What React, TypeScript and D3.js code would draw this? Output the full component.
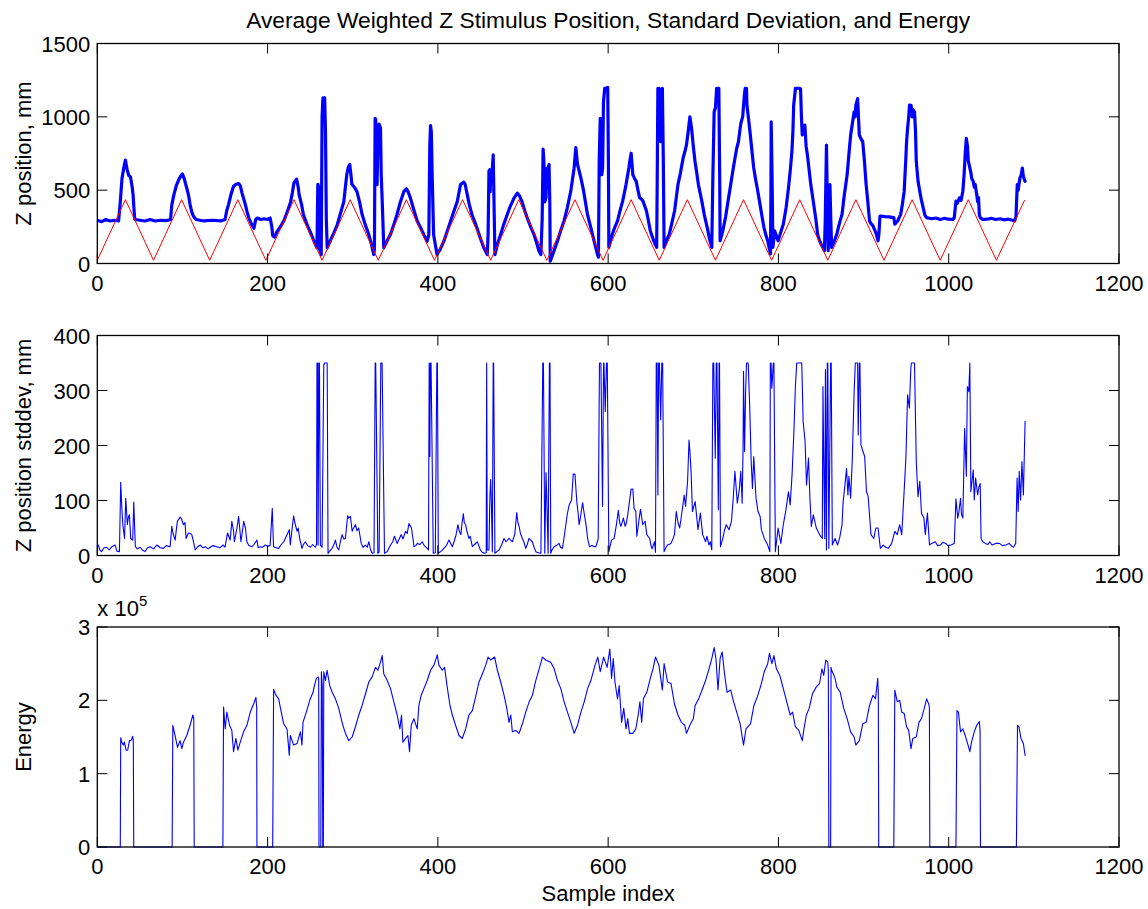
import React from "react";
import * as d3 from "d3";

// ---------- data ----------
const xTicks = [0, 200, 400, 600, 800, 1000, 1200];
const posTicks = [0, 500, 1000, 1500];
const stdTicks = [0, 100, 200, 300, 400];
const energyTicks = [0, 1, 2, 3]; // x 10^5

// red stimulus (triangle wave vertices)
const stimIdx = [0, 33, 66, 99, 132, 165, 198, 231, 264, 297, 330, 363, 396, 429, 462, 495, 528, 561, 594, 627, 660, 693, 726, 759, 792, 825, 858, 891, 924, 957, 990, 1023, 1056, 1089];
const stimVal = [22, 435, 22, 435, 22, 435, 22, 435, 22, 435, 22, 435, 22, 435, 22, 435, 22, 435, 22, 435, 22, 435, 22, 435, 22, 435, 22, 435, 22, 435, 22, 435, 22, 430];

// average weighted Z position, mm  [sample, value]
const zPosition: [number, number][] = [
  [0,295],[5,285],[10,300],[15,290],[20,295],[25,290],[27,420],[29,580],[31,650],[33,705],[35,640],[37,600],[39,590],[41,520],[42,470],[43,380],[44,300],[50,295],[56,290],[62,300],[68,290],[74,295],[80,292],[86,298],
  [87.5,400],[90,470],[93,535],[96,575],[99,605],[100,610],[102,580],[105,515],[107,470],[109,400],[111,350],[113,322],[116,300],[125,290],[135,295],[145,290],[150,300],
  [152,360],[154,400],[157,470],[160,527],[163,540],[166,545],[168,530],[170,480],[172,440],[174,400],[176,350],[178,310],[181,270],[184,240],[186,300],[188,310],[192,300],[196,305],[200,300],[203,310],[205,250],[206,190],[208,180],[211,217],
  [215,250],[219,290],[223,350],[227,420],[229,480],[231,550],[234,575],[236,520],[237,470],[240,400],[242,334],[246,270],[250,217],[254,160],[258,107],[259,540],[260,520],[261,100],[263,60],[264,1000],[265,1130],[266,1120],[267,1130],[268,900],[269,300],[270,107],
  [274,160],[278,210],[281.6,260],[285,330],[289.5,420],[291,500],[293,606],[295,660],[296.5,675],[298,600],[299,540],[302,520],[305,490],[308,420],[311,334],[315,260],[318.9,197],[322,130],[324.7,61],[325.5,100],[326.3,990],[327,980],[328.6,538],[330,940],[331,950],[332.6,925],[333.5,600],[334.5,446],[336.5,107],
  [340,150],[344.3,197],[348,260],[352,334],[356,420],[360,490],[363,510],[365,490],[367.8,446],[371,380],[375.7,290],[380,240],[383.5,197],[387.4,152],[389.4,197],[390.5,800],[391.4,940],[392.3,900],[393.3,606],[395,197],[399,61],
  [403,100],[407,152],[411,220],[415,290],[419,360],[422.7,420],[426.6,538],[430.5,555],[432,540],[434.5,470],[437,400],[440,334],[443,290],[446,240],[450,170],[454,107],[458,61],[459,200],[460,630],[461,640],[461.5,490],[462,630],[463,560],[465,740],[466,400],[467,61],
  [470,130],[473.7,197],[477,260],[481.5,334],[485,390],[489.4,446],[493.3,480],[496,460],[499,420],[502,360],[505,310],[509,250],[513,197],[516,140],[518.8,84],[521,61],[522.5,300],[523.6,780],[524.5,700],[525.6,420],[527,450],[528,650],[529,640],[530.6,675],[531.5,400],[532,16],
  [536,80],[540.4,152],[544,220],[548.2,290],[552,380],[556,490],[558,570],[560,650],[562,790],[564,675],[566,630],[568,583],[571,500],[575.7,334],[579,260],[583.5,152],[587.5,61],[588.6,43],[589.5,700],[590.7,990],[591.5,900],[592.5,605],[593.5,650],[594.5,1100],[596,1195],[598,1195],[599.5,1200],[600.3,700],[600.8,110],
  [604.9,200],[608,250],[611,290],[614,360],[617,425],[619,480],[621,538],[624.3,651],[625.5,700],[627,752],[629,605],[631,580],[633,560],[635,500],[637,448],[639,440],[641,425],[645,358],[647,300],[649.5,223],[653.5,155],[657,110],[657.8,700],[658.4,1195],[660,1195],[661.7,831],[662.5,900],[663.7,1195],[664.8,700],[665.7,110],
  [668,150],[671.8,200],[675,280],[678,358],[682,538],[685,620],[688,718],[690,760],[692,808],[694,900],[696,1000],[698,921],[700,800],[702,696],[704,620],[706,538],[710,425],[713,330],[716.4,245],[719,170],[721.7,110],[723,600],[724.5,1034],[726,1060],[727.4,1195],[729,1195],[730,1195],[731,600],[731.5,155],
  [734.7,223],[738,320],[740.8,425],[744,540],[747,651],[749,720],[751,786],[753,830],[755,921],[756,960],[758,1000],[760,1150],[761,1195],[762.5,1195],[763,1079],[765,980],[767,876],[769,760],[771,651],[773,580],[775,516],[777,450],[779,381],[781,310],[783,245],[785,200],[787.4,155],[789,110],[790.7,65],[791.2,500],[791.5,966],[792.5,600],[793.5,110],[795.5,223],[797.5,190],[799.6,155],
  [802,200],[805.7,268],[809,380],[811.8,516],[814,640],[815.8,763],[817,900],[817.9,1079],[820,1195],[822,1195],[824,1195],[826,1191],[827,1000],[828,876],[829.5,900],[831,944],[832.5,800],[834,741],[836,640],[838,538],[840,460],[842,381],[844,300],[846,200],[848,160],[850,133],[852,110],[854,88],[855,300],[856.4,808],[857.5,400],[858.4,88],[859.5,300],[860.5,538],[861.5,300],[862.5,110],
  [866,160],[868.6,200],[871,260],[874.7,335],[877,450],[880.7,605],[883,760],[884.8,876],[887,960],[888.9,1034],[890,1000],[891,1080],[893,1124],[894,1000],[895,876],[897,850],[899,831],[901,700],[903,538],[905,420],[907,290],[909,270],[911,257],[913,230],[915,200],[917,155],[918,200],[919.3,324],[925,320],[930,318],[935.5,313],[936.7,268],
  [940,290],[943.6,335],[945.5,400],[947.7,493],[949.5,700],[950.5,830],[951.7,921],[953,1000],[954,1080],[955.8,1079],[957,1000],[958,1050],[959.8,1034],[961,900],[961.9,696],[964,560],[966,493],[968,430],[970,381],[972,330],[974,313],[980,305],[985,310],[990,300],[995,308],[1000,302],[1005,300],[1006.5,313],
  [1008.5,425],[1010,410],[1012.6,448],[1014.5,430],[1016.6,493],[1018,600],[1019.5,760],[1020.7,853],[1022,800],[1023,700],[1024.8,651],[1026,620],[1027,580],[1028.8,560],[1030,520],[1031,540],[1032.9,470],[1034,420],[1035,450],[1036,330],[1037,313],
  [1040,300],[1045,302],[1050,308],[1055,300],[1060,305],[1065,298],[1070,302],[1075,295],[1077.5,290],[1079,320],[1080.5,538],[1081.5,500],[1083.6,583],[1085,600],[1086.5,651],[1087.5,600],[1089,570],[1089.7,560]
];

// Z position standard deviation, mm  [sample, value]
const zStd: [number, number][] = [
  [0,15],[1.2,19],[3,10],[5,7],[8,14],[11,15],[14,10],[17,16],[21,19],[23,8],[26,7],[27.5,133],[28.7,89],[30,56],[32,31],[33.4,104],[35.3,56],[36.5,70],[37.7,74],[39.2,31],[41.6,28],[42.8,97],[44.7,16],[47,12],[50.2,15],[53,10],[56,7],[59,14],[62,16],[66,12],[70,19],[74,14],[77.7,13],[81,18],[85.5,16],
  [87.5,53],[89,40],[91.4,28],[94,62],[97.3,70],[99,66],[101.2,56],[103,60],[104.3,31],[107,41],[109,40],[111,38],[113,25],[115,10],[118,16],[121,19],[124,14],[127,16],[130,12],[132.6,15],[136,18],[140.4,16],[144,14],[148,19],[150,15],
  [153,41],[156,28],[158,62],[160,45],[161,25],[164,50],[166,71],[168.7,25],[172,62],[174,50],[175.7,25],[178,18],[181.6,16],[184,20],[187.5,28],[189,14],[191.4,16],[194,15],[197.3,19],[200,17],[203,18],[205.5,86],[207,16],[210,14],[213,13],[216,20],[219,25],[222,35],[225.5,47],[226.7,19],[228.5,45],[230.6,72],[232,60],[234.6,44],[236,50],[237.7,31],[240.4,13],[242,20],[244.4,25],[247,18],[250.3,15],[253,20],[256,15],[257.5,20],
  [258,350],[258.8,350],[259.3,19],[260.3,350],[260.9,350],[262,19],[264,15],[266,346],[267,350],[268.5,350],[270,350],[271,4],[273,8],[275.7,13],[278,20],[279.7,28],[281.5,15],[283.6,10],[285.5,25],[287.5,38],[289.5,30],[291.4,31],[294,72],[295.5,68],[297.3,71],[299.3,44],[301,50],[303.2,56],[305,45],[307,50],[310,22],[312,15],[315,19],[317,15],[319,25],[321,10],[323,4],[325,5],
  [326.4,350],[327,350],[329.5,4],[331,6],[333,350],[334.5,350],[337.3,4],[340.5,7],[342,12],[344.4,19],[347,25],[349,35],[352.2,22],[354,28],[357,38],[359,30],[362,44],[364,40],[366,58],[369,50],[372,16],[374,18],[376,22],[379,20],[381.6,25],[384,18],[387.5,13],[389,10],
  [389.8,350],[390.6,180],[391.2,350],[392,350],[394.6,4],[397,5],[398.8,350],[399.5,350],[400.5,4],[404,8],[407,13],[410,18],[413,28],[415,22],[417,16],[419,25],[421,35],[423.6,56],[425,45],[427,38],[428.5,60],[430,76],[431,60],[432.6,56],[434,45],[436.5,31],[438,35],[440.5,16],[443,20],[446.4,25],[448,18],[450,10],[452,6],[454.2,4],[456.8,5],
  [457.3,350],[458,10],[460,10],[461,100],[462,138],[462.8,100],[464,7],[465,350],[465.5,350],[467,4],[470,8],[472,10],[475,20],[477.7,31],[480,25],[483.6,31],[485.5,28],[487.5,25],[490.3,38],[492.6,78],[494,60],[495.4,53],[497,40],[499.3,31],[501,25],[503.2,13],[505,20],[507,31],[509,28],[511,25],[513,15],[515,7],[518,5],[521,4],
  [523.2,350],[524,350],[525.6,4],[527,151],[528,100],[529.5,4],[531,350],[531.7,350],[532.6,4],[534,10],[536.5,16],[539,18],[542.4,22],[544,15],[546.3,13],[548,30],[550.3,56],[552,75],[554.2,92],[557,101],[559,148],[561,148],[563.2,98],[564.5,80],[566,56],[568,75],[570,96],[572,75],[574,56],[576,30],[578,16],[581,18],[584,16],[585.6,16],[588.3,30],
  [589.8,350],[591.5,350],[593.4,89],[594.6,350],[595,350],[596.6,262],[598,350],[599,350],[600.8,7],[602,15],[604,28],[607,31],[609.7,56],[612,82],[613.5,60],[615,53],[617.9,68],[620,53],[621.5,60],[623,74],[625,98],[627,121],[629,121],[630.4,86],[632.5,80],[633.7,35],[635,50],[636.5,68],[638,84],[640.6,56],[643.4,62],[645.4,38],[648.7,31],[650,20],[651.5,12],[654.4,25],[655.6,6],
  [656.5,350],[657.5,350],[658.4,110],[659.3,350],[660.2,350],[661.7,247],[663,350],[664,350],[665.7,7],[668,15],[669.8,19],[673.8,22],[676,30],[677.9,38],[680,80],[682,60],[684,50],[686.8,80],[689.3,110],[690.9,89],[693.3,135],[695,210],[696,190],[697.4,153],[699,80],[702.2,98],[705.5,47],[708.3,77],[711,38],[714.4,25],[716,35],[718.5,19],[720,25],[721.7,10],
  [723,350],[724,350],[725.8,177],[727,350],[727.8,350],[729.4,83],[730.3,350],[730.8,350],[731.9,16],[734.7,31],[736.5,45],[738.7,56],[742,47],[744.8,62],[746.9,104],[748.9,153],[750.5,120],[751.7,95],[754,119],[755.8,153],[757.4,95],[758.5,200],[759,335],[760.2,189],[761.5,300],[762.5,350],[764.5,350],[766.3,268],[768,171],[769.5,122],[771,180],[773.7,104],[776,80],[778.5,71],[780,47],[783.4,31],[787.4,19],[789.9,7],
  [790.5,350],[791.3,350],[792.3,304],[794,350],[794.7,350],[796.4,7],[799.6,50],[802.8,22],[805.7,56],[808.5,80],[811.8,116],[813.8,92],[816,147],[818,219],[820,310],[821.5,350],[827.4,350],[829,244],[831.3,207],[833,128],[835.3,177],[837,104],[838.6,53],[841,74],[844.5,50],[848.3,38],[851.5,31],
  [852.3,307],[853,200],[854.4,31],[855.2,338],[856.4,10],[857.4,350],[858,350],[859.2,13],[861.3,350],[862,350],[863.3,19],[866.5,31],[869.4,19],[871.8,31],[874.7,56],[876,98],[878,127],[880,158],[881.6,110],[882.8,144],[884.8,104],[886.8,177],[888.9,298],[890.3,350],[893,350],[893.7,219],[895,350],[895.7,350],[896.9,201],[899.3,189],[901.3,180],[903.4,116],[905.4,107],[908.7,38],[912,31],[914.4,50],[917,50],[919.7,13],
  [923,19],[926,15],[929,13],[933,22],[936.7,44],[939.5,38],[942.4,56],[944.8,38],[947.6,116],[949.7,177],[951.7,292],[953.8,268],[955.5,340],[956.2,350],[959.8,350],[961.9,171],[963.9,107],[966,135],[968,77],[970.9,68],[972.5,38],[975,77],[977.4,19],[980,22],[984.2,25],[987,18],[990.3,19],[993,24],[996.4,22],[999,18],[1002.5,19],[1006.5,22],
  [1008.5,103],[1010.6,68],[1012,80],[1013.9,104],[1015,75],[1016.6,68],[1018.7,231],[1020.7,144],[1021.9,307],[1023.6,298],[1024.8,350],[1026,116],[1028.8,156],[1030,101],[1031.6,141],[1034,110],[1035.5,125],[1037,131],[1038,31],
  [1040,25],[1043,22],[1046,20],[1048,25],[1051,19],[1055,22],[1059.6,22],[1063,18],[1067,19],[1071,22],[1074,17],[1076,15],[1078.7,22],[1080.3,141],[1081.6,80],[1082.8,153],[1084.4,101],[1086,171],[1087.7,110],[1089.7,244]
];

// energy, in units of 10^5  [sample, value]
const energy: [number, number][] = [
  [0,0],[27,0],[27.5,1.49],[28.7,1.43],[30.6,1.39],[31.8,1.43],[33.8,1.32],[35.7,1.32],[37.7,1.45],[39.6,1.45],[41.6,1.51],[42.3,1.45],[42.8,0],
  [87.9,0],[88.7,1.66],[91.4,1.52],[94.2,1.36],[97.3,1.45],[99.3,1.34],[101.2,1.43],[105.1,1.52],[109,1.66],[112.2,1.80],[113.3,1.75],[113.8,0],
  [147.5,0],[148.3,1.91],[150.2,1.61],[152.2,1.84],[155.3,1.66],[158,1.59],[160,1.30],[162.8,1.48],[165.1,1.32],[167.9,1.43],[171.8,1.57],[175.7,1.66],[179.7,1.84],[183.6,1.95],[186.3,2.04],[187.2,1.9],[187.5,0],
  [206,0],[207.1,2.15],[209.8,2.07],[213,2.02],[215.7,1.86],[218.9,1.68],[222.8,1.61],[225.5,1.25],[226.7,1.52],[230.6,1.39],[234.6,1.41],[238.5,1.57],[240.4,1.39],[241.6,1.70],[245.5,1.84],[249.5,2.00],[253.4,2.11],[255,2.20],[257.3,2.30],[259.3,2.32],[260,2.3],[260.4,0],[262.5,0],[263.2,2.39],[264.2,2.2],[264.8,0],[265.5,0],
  [266,2.39],[268,2.27],[269.9,2.41],[273,2.20],[275.8,2.11],[279.7,2.02],[283.6,1.89],[287.5,1.70],[291.4,1.55],[295.4,1.45],[299.3,1.50],[303.2,1.64],[307.1,1.80],[311,1.93],[315,2.09],[318.9,2.25],[322.8,2.32],[326.7,2.45],[329.5,2.41],[332.6,2.52],[334.6,2.61],[336.5,2.36],[340.5,2.27],[344.4,2.16],[348.3,1.98],[352.2,1.80],[355.4,1.61],[357.3,1.80],[358.9,1.43],[362,1.48],[364.8,1.52],[366.7,1.30],[368.7,1.66],[371.8,1.75],[373.8,1.68],[375.7,1.61],[377.7,1.93],[380.4,2.07],[383.6,2.16],[387.5,2.27],[391.4,2.41],[395.4,2.48],[399.3,2.62],[401.2,2.48],[405.2,2.41],[407.9,2.45],[411,2.18],[414.2,1.93],[417,1.80],[420.8,1.66],[424.8,1.52],[428.7,1.48],[432.6,1.61],[436.5,1.80],[440.5,1.86],[444.4,2.05],[448.3,2.25],[452.2,2.36],[456.2,2.48],[458.9,2.59],[462,2.55],[466.7,2.59],[469.9,2.41],[473.8,2.25],[477.7,2.07],[480.9,1.89],[483.6,1.70],[485.6,1.80],[487.5,1.57],[491.4,1.59],[495.4,1.55],[499.3,1.68],[503.2,1.84],[507.2,1.98],[511.1,2.07],[515,2.27],[519,2.43],[522.8,2.59],[526.7,2.55],[532.6,2.52],[536.6,2.43],[540.5,2.27],[544.4,2.16],[548.3,1.98],[552.2,1.84],[556.2,1.70],[560.1,1.55],[564,1.66],[568,1.84],[571.9,1.98],[575.8,2.16],[579.7,2.27],
  [584.6,2.48],[587.8,2.59],[590.7,2.39],[594.7,2.59],[598.8,2.45],[602,2.70],[604,2.30],[606,2.57],[608,2.25],[611,2.02],[613,2.20],[615.8,1.70],[618.3,1.89],[621,1.61],[623,1.75],[625,1.55],[629,1.55],[632.5,1.61],[635.3,1.80],[637.3,1.98],[639.4,1.70],[641.4,2.02],[645.4,2.11],[649.5,2.30],[652.7,2.43],[655.6,2.59],[659.6,2.48],[663.7,2.14],[665.7,2.50],[669.8,2.25],[673.8,2.23],[677.9,1.95],[682,1.80],[686,1.70],[690,1.66],[692,1.55],[696,1.66],[700,1.75],[702.2,1.93],[706.3,2.02],[710.3,2.14],[714.4,2.27],[718.5,2.43],[721.7,2.57],[724.5,2.72],[726.6,2.57],[729,2.14],[731.5,2.57],[733.9,2.66],[736.7,2.36],[739.6,2.11],[744,2.14],[746.9,2.00],[751,1.84],[755,1.68],[759,1.39],[761.9,1.61],[767.2,1.68],[771.2,1.93],[775.3,2.05],[779.3,2.20],[783.4,2.39],[787.4,2.50],[789.5,2.64],[792.3,2.50],[794.7,2.61],[797.6,2.43],[801.6,2.34],[805.7,2.16],[809.8,1.98],[813.8,1.80],[816.6,1.84],[819.9,1.64],[823.9,1.59],[828,1.45],[830,1.61],[832.8,1.80],[836.1,1.89],[840,2.09],[844.3,2.18],[848.3,2.23],[851.1,2.43],[853.2,2.34],[855.6,2.55],[858,2.52],[858.6,2.4],[859.2,0],
  [861.3,0],[861.8,2.45],[862.5,2.41],[864.5,2.36],[866.5,2.30],[868.6,2.18],[872.6,2.11],[876.7,1.89],[880.7,1.75],[884.8,1.57],[888.9,1.50],[890.9,1.39],[895,1.45],[899,1.68],[903,1.70],[907,1.93],[911,2.07],[914,2.02],[916.6,2.30],[917.3,2.1],[917.8,0],
  [935.5,0],[936.7,2.14],[939.6,1.98],[942.4,2.00],[944.8,1.84],[947.7,1.82],[950.5,1.64],[953,1.59],[955.7,1.34],[957.8,1.48],[961.9,1.50],[965,1.70],[968,1.75],[971.3,1.89],[974.1,2.02],[976.5,1.95],[977.3,1.9],[977.8,0],
  [1008.5,0],[1009.7,1.86],[1011.4,1.84],[1013.9,1.57],[1016.6,1.61],[1019.4,1.52],[1022.7,1.39],[1024.8,1.30],[1026.8,1.43],[1030,1.57],[1032.9,1.66],[1036,1.71],[1036.8,1.6],[1037.3,0],
  [1079.5,0],[1080.8,1.66],[1082.4,1.64],[1084.9,1.48],[1087.7,1.41],[1089.7,1.25]
];

// ---------- layout ----------
const W = 1148;
const H = 909;
const LEFT = 97.3;
const RIGHT = 1119;
const PANEL_H = 220;
const FONT = "'Liberation Sans', Arial, Helvetica, sans-serif";
const FS = 22;
const TICK = 10;

const x = d3.scaleLinear().domain([0, 1200]).range([LEFT, RIGHT]);

type Series = { data: [number, number][]; color: string; width: number };

function Panel(props: {
  id: string;
  top: number;
  yMax: number;
  yTicks: number[];
  label: string;
  series: Series[];
  xLabel?: string;
  exponent?: boolean;
}) {
  const { id, top, yMax, yTicks, label, series } = props;
  const bottom = top + PANEL_H;
  const y = d3.scaleLinear().domain([0, yMax]).range([bottom, top]);
  const line = d3
    .line<[number, number]>()
    .x((d) => x(d[0]))
    .y((d) => y(d[1]));
  const midY = (top + bottom) / 2;
  return (
    <g>
      <defs>
        <clipPath id={id}>
          <rect x={LEFT} y={top - 2} width={RIGHT - LEFT} height={PANEL_H + 4} />
        </clipPath>
      </defs>
      <g clipPath={`url(#${id})`}>
        {series.map((s, i) => (
          <path
            key={i}
            d={line(s.data) || ""}
            fill="none"
            stroke={s.color}
            strokeWidth={s.width}
            strokeLinejoin="round"
            strokeLinecap="round"
          />
        ))}
      </g>
      {xTicks.map((t) => (
        <g key={"x" + t}>
          <line x1={x(t)} x2={x(t)} y1={bottom} y2={bottom - TICK} stroke="#000" strokeWidth={1} />
          <line x1={x(t)} x2={x(t)} y1={top} y2={top + TICK} stroke="#000" strokeWidth={1} />
          <text x={x(t)} y={bottom + 27} textAnchor="middle" fontFamily={FONT} fontSize={FS} fill="#000">
            {t}
          </text>
        </g>
      ))}
      {yTicks.map((t) => (
        <g key={"y" + t}>
          <line x1={LEFT} x2={LEFT + TICK} y1={y(t)} y2={y(t)} stroke="#000" strokeWidth={1} />
          <line x1={RIGHT} x2={RIGHT - TICK} y1={y(t)} y2={y(t)} stroke="#000" strokeWidth={1} />
          <text x={LEFT - 7} y={y(t) + 8} textAnchor="end" fontFamily={FONT} fontSize={FS} fill="#000">
            {t}
          </text>
        </g>
      ))}
      <rect x={LEFT} y={top} width={RIGHT - LEFT} height={PANEL_H} fill="none" stroke="#000" strokeWidth={1.3} />
      <text
        transform={`translate(31,${midY}) rotate(-90)`}
        textAnchor="middle"
        fontFamily={FONT}
        fontSize={FS}
        fill="#000"
      >
        {label}
      </text>
      {props.exponent && (
        <text x={LEFT} y={top - 11} fontFamily={FONT} fontSize={FS} fill="#000">
          x 10
          <tspan fontSize={15} dy={-10}>
            5
          </tspan>
        </text>
      )}
      {props.xLabel && (
        <text x={(LEFT + RIGHT) / 2} y={bottom + 54} textAnchor="middle" fontFamily={FONT} fontSize={FS} fill="#000">
          {props.xLabel}
        </text>
      )}
    </g>
  );
}

export default function App() {
  const stim: [number, number][] = stimIdx.map((s, i) => [s, stimVal[i]]);
  return (
    <svg
      width={W}
      height={H}
      viewBox={`0 0 ${W} ${H}`}
      style={{ position: "absolute", left: 0, top: 0, background: "#fff", display: "block" }}
    >
      <rect x={0} y={0} width={W} height={H} fill="#fff" />
      <text x={(LEFT + RIGHT) / 2} y={28} textAnchor="middle" fontFamily={FONT} fontSize={22.8} fill="#000">
        Average Weighted Z Stimulus Position, Standard Deviation, and Energy
      </text>
      <Panel
        id="clipTop"
        top={43.5}
        yMax={1500}
        yTicks={posTicks}
        label="Z position, mm"
        series={[
          { data: zPosition, color: "#0000ff", width: 3.2 },
          { data: stim, color: "#ff0000", width: 1 },
        ]}
      />
      <Panel
        id="clipMid"
        top={335.5}
        yMax={400}
        yTicks={stdTicks}
        label="Z position stddev, mm"
        series={[{ data: zStd, color: "#0000ff", width: 1.1 }]}
      />
      <Panel
        id="clipBot"
        top={627}
        yMax={3}
        yTicks={energyTicks}
        label="Energy"
        exponent
        xLabel="Sample index"
        series={[{ data: energy, color: "#0000ff", width: 1.1 }]}
      />
    </svg>
  );
}
